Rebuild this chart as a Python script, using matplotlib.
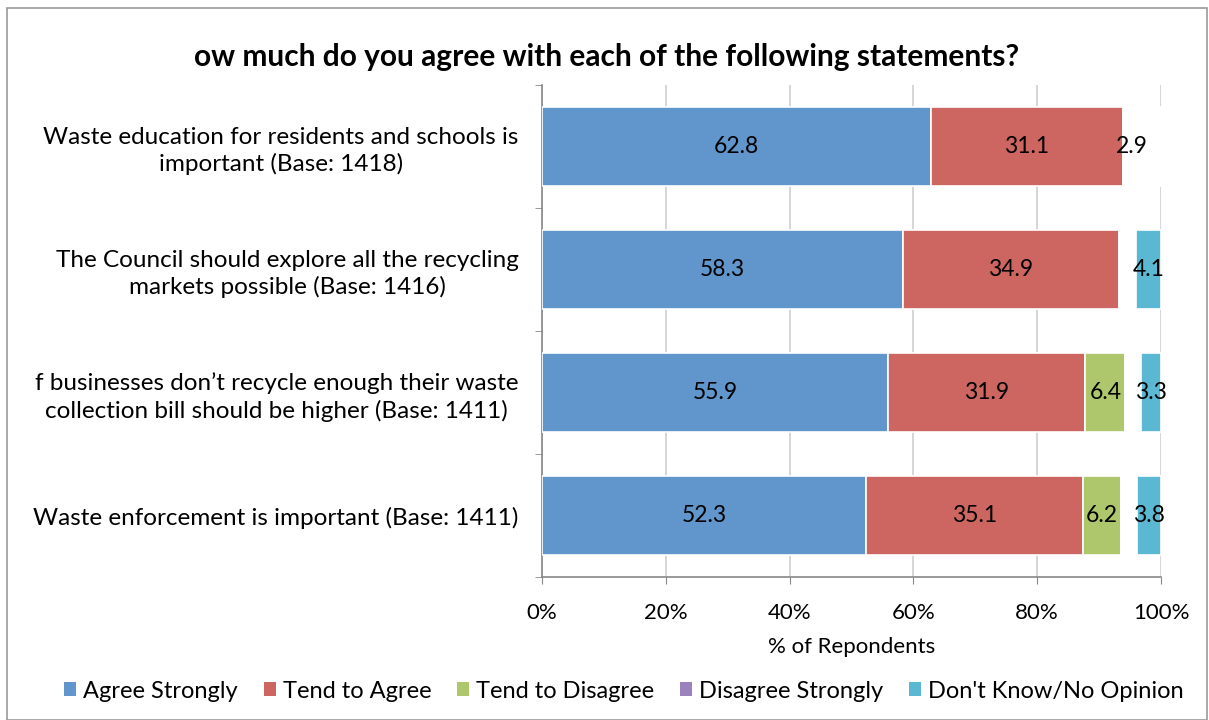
import numpy as np
import matplotlib
matplotlib.use("Agg")
import matplotlib.pyplot as plt
from matplotlib.patches import Patch, Rectangle

plt.rcParams['font.family'] = ['Lato', 'DejaVu Sans']

statements = [
    "Waste education for residents and schools is\nimportant (Base: 1418)",
    "The Council should explore all the recycling\nmarkets possible (Base: 1416)",
    "f businesses don\u2019t recycle enough their waste\ncollection bill should be higher (Base: 1411)",
    "Waste enforcement is important (Base: 1411)",
]
series_names = ["Agree Strongly", "Tend to Agree", "Tend to Disagree",
                "Disagree Strongly", "Don't Know/No Opinion"]
agree_strongly = [62.8, 58.3, 55.9, 52.3]
tend_agree = [31.1, 34.9, 31.9, 35.1]
tend_disagree = [2.9, 1.4, 6.4, 6.2]
disagree_strongly = [1.2, 1.3, 2.5, 2.6]
dont_know = [2.0, 4.1, 3.3, 3.8]
# segments that appear blank (white) in the original, as (row, series)
blank_cells = {(0, 2), (0, 3), (0, 4), (1, 2), (1, 3), (2, 3), (3, 3)}
labelled_cells = {(0, 0), (0, 1), (0, 2), (1, 0), (1, 1), (1, 4),
                  (2, 0), (2, 1), (2, 2), (2, 4), (3, 0), (3, 1), (3, 2), (3, 4)}

colors = ["#6096cb", "#cd6660", "#aec66c", "#9a82bc", "#5bb8d2"]
data = np.array([agree_strongly, tend_agree, tend_disagree, disagree_strongly, dont_know])

fig = plt.figure(figsize=(12.09, 7.2), dpi=100)
ax = fig.add_axes([542 / 1209, 1 - 577 / 720, 619 / 1209, 492 / 720])

y = np.arange(len(statements))
left = np.zeros(len(statements))
for j, name in enumerate(series_names):
    fc = [("white" if (i, j) in blank_cells else colors[j]) for i in range(len(y))]
    bars = ax.barh(y, data[j], left=left, height=0.65, color=fc,
                   edgecolor="white", linewidth=1.2, zorder=3)
    for i, b in enumerate(bars):
        if (i, j) in labelled_cells:
            ax.text(left[i] + data[j][i] / 2, y[i], f"{data[j][i]:.1f}",
                    ha="center", va="center", fontsize=16.5, zorder=4)
    left += data[j]

ax.set_xlim(0, 100)
ax.set_ylim(3.5, -0.5)
ax.set_xticks(np.arange(0, 101, 20))
ax.set_xticklabels([f"{v}%" for v in range(0, 101, 20)], fontsize=16)
ax.set_yticks(y)
ax.set_yticklabels(statements, fontsize=17.5, linespacing=1.3)
for t in ax.get_yticklabels():
    t.set_multialignment("center")
ax.set_yticks(np.arange(-0.5, 4, 1), minor=True)
ax.tick_params(axis="y", which="major", length=0, pad=17)
ax.tick_params(axis="y", which="minor", length=5, color="#888888", direction="out")
ax.tick_params(axis="x", length=5, color="#888888", pad=14)
ax.grid(axis="x", color="#d0d0d0", linewidth=1.2, zorder=0)
for s in ["top", "right"]:
    ax.spines[s].set_visible(False)
for s in ["left", "bottom"]:
    ax.spines[s].set_color("#888888")
    ax.spines[s].set_linewidth(1.2)
ax.set_xlabel("% of Repondents", fontsize=16, labelpad=10)

fig.text(607 / 1209, 1 - 57 / 720,
         "ow much do you agree with each of the following statements?",
         ha="center", va="center", fontsize=21.5, fontweight="bold")

handles = [Patch(facecolor=c, edgecolor="none") for c in colors]
fig.legend(handles, series_names, loc="center", bbox_to_anchor=(624 / 1209, 1 - 691 / 720),
           ncol=5, frameon=False, fontsize=17, handlelength=0.5, handleheight=0.5,
           handletextpad=0.3, columnspacing=1.1)

fig.patches.append(Rectangle((7 / 1209, 0), 1 - 9 / 1209, 1 - 8 / 720, transform=fig.transFigure,
                             fill=False, edgecolor="#999999", linewidth=1.2))

fig.savefig("out.png", dpi=100)
